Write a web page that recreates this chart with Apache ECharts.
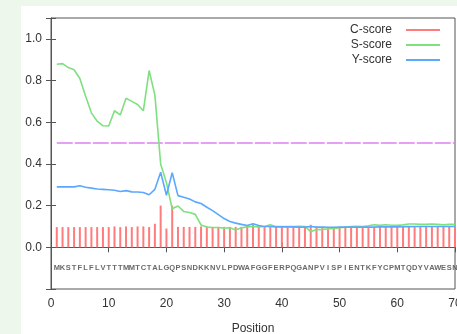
<!DOCTYPE html>
<html>
<head>
<meta charset="utf-8">
<script src="https://cdn.jsdelivr.net/npm/echarts@6/dist/echarts.min.js"></script>
<style>
  html, body { margin: 0; padding: 0; background: #eef7ec; }
  #chart { position: absolute; left: 21px; top: 6px; width: 436px; height: 328px; background: #fff; }
</style>
</head>
<body>
<div id="chart"></div>
<script>
// sequence shown under the curves, one letter per position
const sequence = 'MKSTFLFLVTTTMMTCTALGQPSNDKKNVLPDWAFGGFERPQGANPVISPIENTKFYCPMTQDYVAWESN'.split('');

const cScore = [0.097, 0.097, 0.097, 0.097, 0.097, 0.097, 0.097, 0.097, 0.097, 0.097,
  0.1, 0.097, 0.1, 0.097, 0.1, 0.1, 0.097, 0.113, 0.2, 0.09,
  0.2, 0.098, 0.098, 0.098, 0.098, 0.1, 0.1, 0.098, 0.098, 0.098,
  0.098, 0.098, 0.098, 0.098, 0.11, 0.098, 0.098, 0.098, 0.098, 0.098,
  0.098, 0.098, 0.098, 0.098, 0.108, 0.098, 0.098, 0.098, 0.098, 0.098,
  0.098, 0.098, 0.098, 0.098, 0.098, 0.098, 0.098, 0.098, 0.098, 0.098,
  0.098, 0.098, 0.098, 0.098, 0.098, 0.098, 0.098, 0.098, 0.098, 0.098];

const sScore = [0.878, 0.881, 0.862, 0.852, 0.81, 0.725, 0.645, 0.605, 0.583, 0.582,
  0.655, 0.635, 0.715, 0.70, 0.685, 0.655, 0.848, 0.73, 0.40, 0.31,
  0.185, 0.198, 0.172, 0.167, 0.158, 0.107, 0.097, 0.095, 0.095, 0.092,
  0.094, 0.083, 0.094, 0.098, 0.1, 0.098, 0.1, 0.108, 0.099, 0.1,
  0.1, 0.1, 0.101, 0.1, 0.075, 0.085, 0.086, 0.088, 0.09, 0.094,
  0.097, 0.1, 0.101, 0.1, 0.103, 0.108, 0.105, 0.108, 0.106, 0.105,
  0.108, 0.112, 0.112, 0.11, 0.11, 0.112, 0.11, 0.108, 0.11, 0.11];

const yScore = [0.29, 0.29, 0.29, 0.29, 0.295, 0.288, 0.284, 0.28, 0.278, 0.276,
  0.274, 0.268, 0.272, 0.266, 0.265, 0.263, 0.252, 0.278, 0.36, 0.25,
  0.358, 0.248, 0.24, 0.232, 0.218, 0.21, 0.192, 0.176, 0.157, 0.138,
  0.124, 0.116, 0.11, 0.105, 0.113, 0.105, 0.1, 0.1, 0.098, 0.098,
  0.098, 0.098, 0.097, 0.097, 0.1, 0.097, 0.097, 0.096, 0.096, 0.097,
  0.097, 0.097, 0.097, 0.097, 0.097, 0.097, 0.098, 0.098, 0.098, 0.098,
  0.099, 0.099, 0.1, 0.1, 0.1, 0.1, 0.1, 0.1, 0.1, 0.1];

const cutoff = 0.5;
const xTicks = [0, 70, 10];
const yTicks = [-0.2, 1.1, 0.2];

const pos = (i) => i + 1;
const font = 'Liberation Sans';

const chart = echarts.init(document.getElementById('chart'));

const axisBase = {
  type: 'value',
  axisLine: { show: true, lineStyle: { color: '#555', width: 1 } },
  axisTick: { show: true, inside: true, length: 5, lineStyle: { color: '#555' } },
  splitLine: { show: false },
};

chart.setOption({
  animation: false,
  grid: {
    left: 30, top: 12, right: 2, bottom: 45,
    outerBoundsMode: 'none', containLabel: false,
    show: true, borderColor: '#555', borderWidth: 1,
  },
  legend: {
    orient: 'vertical',
    right: 17,
    top: 18,
    padding: 0,
    align: 'right',
    itemWidth: 34,
    itemHeight: 2,
    itemGap: 3,
    icon: 'rect',
    textStyle: { fontFamily: font, fontSize: 12, color: '#333', padding: [0, 9, 0, 0] },
    data: ['C-score', 'S-score', 'Y-score'],
  },
  xAxis: [
    Object.assign({}, axisBase, {
      min: xTicks[0], max: xTicks[1], interval: xTicks[2],
      name: 'Position', nameLocation: 'middle', nameGap: 34,
      nameTextStyle: { fontFamily: font, fontSize: 12, color: '#333' },
      axisLabel: { fontFamily: font, fontSize: 12, color: '#333', margin: 9 },
    }),
    Object.assign({}, axisBase, {
      position: 'top', min: xTicks[0], max: xTicks[1], interval: xTicks[2],
      axisLabel: { show: false },
    }),
  ],
  yAxis: [
    Object.assign({}, axisBase, {
      min: yTicks[0], max: yTicks[1], interval: yTicks[2],
      axisLabel: {
        fontFamily: font, fontSize: 12, color: '#333', margin: 9,
        formatter: (v) => (v < -0.1 || v > 1.05) ? '' : v.toFixed(1),
      },
    }),
    Object.assign({}, axisBase, {
      position: 'right', min: yTicks[0], max: yTicks[1], interval: yTicks[2],
      axisLabel: { show: false },
    }),
  ],
  series: [
    {
      name: 'C-score',
      type: 'bar',
      barWidth: 2,
      itemStyle: { color: '#ff7c7c' },
      data: cScore.map((v, i) => [pos(i), v]),
    },
    {
      name: 'cutoff',
      type: 'line',
      symbol: 'none',
      lineStyle: { color: '#dd80f0', width: 1.5, type: [16, 2] },
      data: [[xTicks[0] + 1, cutoff], [xTicks[1], cutoff]],
    },
    {
      name: 'S-score',
      type: 'line',
      symbol: 'none',
      lineStyle: { color: '#7fe07f', width: 1.6 },
      itemStyle: { color: '#7fe07f' },
      data: sScore.map((v, i) => [pos(i), v]),
    },
    {
      name: 'Y-score',
      type: 'line',
      symbol: 'none',
      lineStyle: { color: '#5aa8ff', width: 1.6 },
      itemStyle: { color: '#5aa8ff' },
      data: yScore.map((v, i) => [pos(i), v]),
    },
    {
      name: 'sequence',
      type: 'scatter',
      symbolSize: 1,
      itemStyle: { color: 'transparent' },
      label: {
        show: true, position: 'inside',
        fontFamily: font, fontSize: 7.5, fontWeight: 'bold', color: '#444',
        formatter: (p) => p.value[2],
      },
      data: sequence.map((s, i) => [pos(i), -0.1, s]),
    },
  ],
});
</script>
</body>
</html>
